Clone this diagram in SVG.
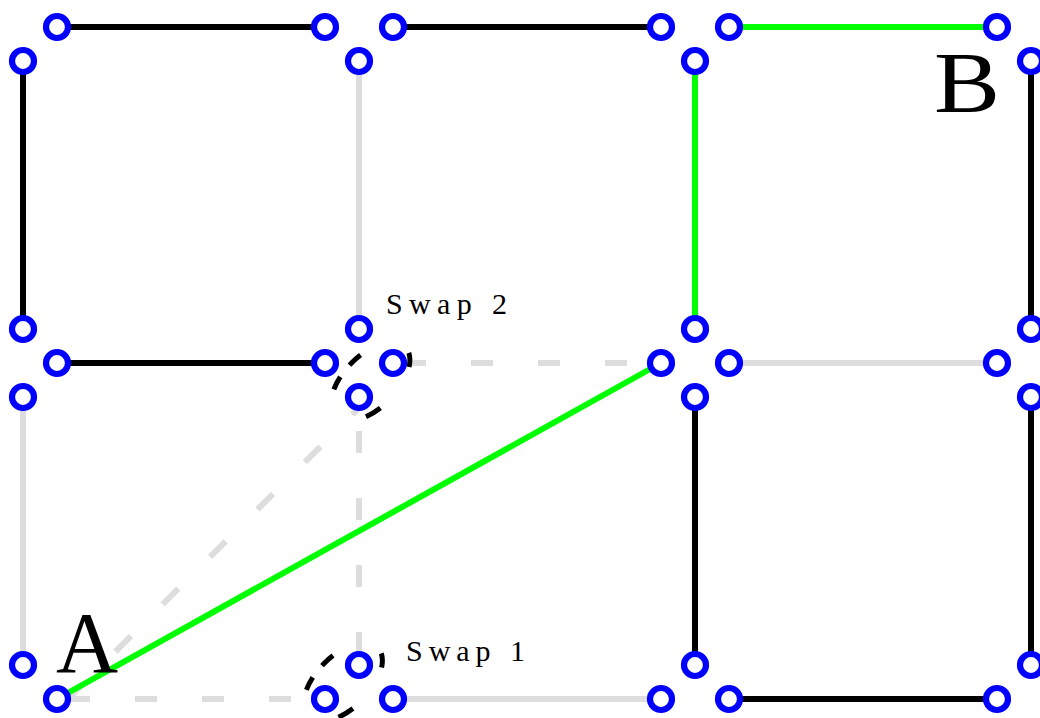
<svg xmlns="http://www.w3.org/2000/svg" width="1040" height="718" viewBox="0 0 1040 718">
<style>
.n{fill:#ffffff;stroke:#0000ff;stroke-width:6.2}
.e{fill:none;stroke-width:6}
.k{stroke:#000000}
.g{stroke:#00ff00}
.l{stroke:#dddddd}
.d{stroke:#dddddd;stroke-dasharray:22 45}
.sw{fill:none;stroke:#000000;stroke-width:5;stroke-dasharray:14.3 51 16.5 60.8 13.8 14.9 15.2 56;stroke-dashoffset:-7.2}
.lab{font-family:"Liberation Serif","Times New Roman",serif;fill:#000000}
</style>
<defs>
  <path id="swapEllipse" class="sw" pathLength="242.5" d="M 49 0 A 49 26.5 0 0 1 -49 0 A 49 26.5 0 0 1 49 0 Z"/>
</defs>
<rect width="1040" height="718" fill="#ffffff"/>
<g id="connectors">
  <line class="e l" x1="729" y1="363" x2="997" y2="363"/>
  <line class="e l" x1="393" y1="699" x2="661" y2="699"/>
  <line class="e l" x1="23" y1="397" x2="23" y2="665"/>
  <line class="e l" x1="359" y1="61" x2="359" y2="329"/>
  <line class="e d" x1="68" y1="699" x2="314" y2="699"/>
  <line class="e d" x1="359" y1="654" x2="359" y2="408"/>
  <line class="e d" x1="404" y1="363" x2="650" y2="363"/>
  <line class="e d" x1="68" y1="699" x2="359" y2="408"/>
  <line class="e k" x1="57" y1="27" x2="325" y2="27"/>
  <line class="e k" x1="393" y1="27" x2="661" y2="27"/>
  <line class="e k" x1="57" y1="363" x2="325" y2="363"/>
  <line class="e k" x1="729" y1="699" x2="997" y2="699"/>
  <line class="e k" x1="23" y1="61" x2="23" y2="329"/>
  <line class="e k" x1="695" y1="397" x2="695" y2="665"/>
  <line class="e k" x1="1031" y1="61" x2="1031" y2="329"/>
  <line class="e k" x1="1031" y1="397" x2="1031" y2="665"/>
  <line class="e g" x1="57" y1="699" x2="661" y2="363"/>
  <line class="e g" x1="695" y1="61" x2="695" y2="329"/>
  <line class="e g" x1="729" y1="27" x2="997" y2="27"/>
</g>
<g id="swaps">
  <use id="swap1" href="#swapEllipse" transform="translate(343 682) rotate(-45)"/>
  <use id="swap2" href="#swapEllipse" transform="translate(370.5 381.5) rotate(-45)"/>
</g>
<g id="nodes">
  <g id="n57_27"><circle class="n" cx="57" cy="27" r="11"/></g>
  <g id="n23_61"><circle class="n" cx="23" cy="61" r="11"/></g>
  <g id="n23_329"><circle class="n" cx="23" cy="329" r="11"/></g>
  <g id="n57_363"><circle class="n" cx="57" cy="363" r="11"/></g>
  <g id="n23_397"><circle class="n" cx="23" cy="397" r="11"/></g>
  <g id="n23_665"><circle class="n" cx="23" cy="665" r="11"/></g>
  <g id="n57_699"><circle class="n" cx="57" cy="699" r="11"/></g>
  <g id="n325_27"><circle class="n" cx="325" cy="27" r="11"/></g>
  <g id="n393_27"><circle class="n" cx="393" cy="27" r="11"/></g>
  <g id="n359_61"><circle class="n" cx="359" cy="61" r="11"/></g>
  <g id="n359_329"><circle class="n" cx="359" cy="329" r="11"/></g>
  <g id="n325_363"><circle class="n" cx="325" cy="363" r="11"/></g>
  <g id="n393_363"><circle class="n" cx="393" cy="363" r="11"/></g>
  <g id="n359_397"><circle class="n" cx="359" cy="397" r="11"/></g>
  <g id="n359_665"><circle class="n" cx="359" cy="665" r="11"/></g>
  <g id="n325_699"><circle class="n" cx="325" cy="699" r="11"/></g>
  <g id="n393_699"><circle class="n" cx="393" cy="699" r="11"/></g>
  <g id="n661_27"><circle class="n" cx="661" cy="27" r="11"/></g>
  <g id="n729_27"><circle class="n" cx="729" cy="27" r="11"/></g>
  <g id="n695_61"><circle class="n" cx="695" cy="61" r="11"/></g>
  <g id="n695_329"><circle class="n" cx="695" cy="329" r="11"/></g>
  <g id="n661_363"><circle class="n" cx="661" cy="363" r="11"/></g>
  <g id="n729_363"><circle class="n" cx="729" cy="363" r="11"/></g>
  <g id="n695_397"><circle class="n" cx="695" cy="397" r="11"/></g>
  <g id="n695_665"><circle class="n" cx="695" cy="665" r="11"/></g>
  <g id="n661_699"><circle class="n" cx="661" cy="699" r="11"/></g>
  <g id="n729_699"><circle class="n" cx="729" cy="699" r="11"/></g>
  <g id="n997_27"><circle class="n" cx="997" cy="27" r="11"/></g>
  <g id="n1031_61"><circle class="n" cx="1031" cy="61" r="11"/></g>
  <g id="n1031_329"><circle class="n" cx="1031" cy="329" r="11"/></g>
  <g id="n997_363"><circle class="n" cx="997" cy="363" r="11"/></g>
  <g id="n1031_397"><circle class="n" cx="1031" cy="397" r="11"/></g>
  <g id="n1031_665"><circle class="n" cx="1031" cy="665" r="11"/></g>
  <g id="n997_699"><circle class="n" cx="997" cy="699" r="11"/></g>
</g>
<g id="labels">
  <text class="lab" x="56" y="672" font-size="86">A</text>
  <text class="lab" x="934" y="112" font-size="86" textLength="66" lengthAdjust="spacingAndGlyphs">B</text>
  <text class="lab" x="386" y="313.5" font-size="30" textLength="121" lengthAdjust="spacing">Swap 2</text>
  <text class="lab" x="406" y="660.5" font-size="30" textLength="119" lengthAdjust="spacing">Swap 1</text>
</g>
</svg>
